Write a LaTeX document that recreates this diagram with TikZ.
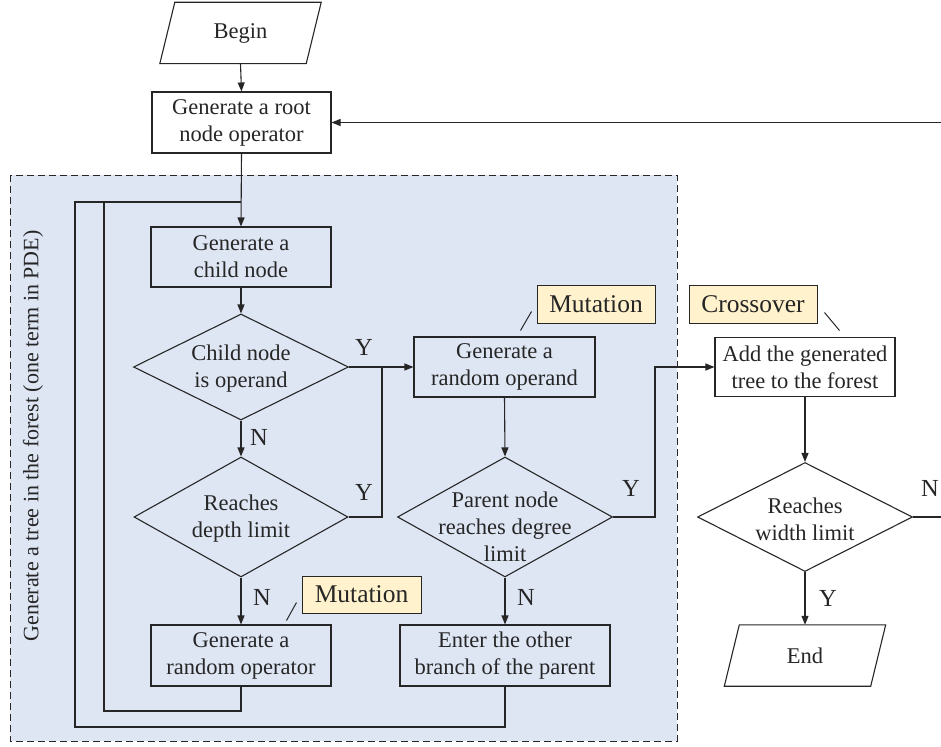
\documentclass[tikz,border=0pt]{standalone}
\usepackage{fontspec}
\setmainfont{Liberation Serif}
\usetikzlibrary{arrows.meta,shapes.geometric}

\definecolor{regionblue}{RGB}{222,230,244}
\definecolor{notefill}{RGB}{255,242,204}
\definecolor{ink}{RGB}{38,38,38}

\newcommand\boxfont{\fontsize{22.5}{27}\selectfont}
\newcommand\notefont{\fontsize{25.5}{30}\selectfont}
\newcommand\labelfont{\fontsize{24.5}{28}\selectfont}
\newcommand\regionfont{\fontsize{22}{26}\selectfont}

\tikzset{
  stepbox/.style={draw=ink, line width=1.1pt, rectangle, align=center,
    inner sep=2pt, font=\boxfont, text=ink},
  decision/.style={draw=ink, line width=1.1pt, diamond, inner sep=0pt},
  decisiontext/.style={align=center, inner sep=0pt, font=\boxfont, text=ink},
  ioframe/.style={rectangle, align=center, font=\boxfont, text=ink,
    minimum width=146pt, minimum height=61pt},
  iooutline/.style={draw=ink, line width=1.1pt, fill=white},
  note/.style={draw=ink, line width=1pt, fill=notefill, font=\notefont,
    text=ink, inner sep=0pt},
  tick/.style={draw=ink, line width=1pt},
  branch/.style={font=\labelfont, text=ink, inner sep=0pt},
  flow/.style={draw=ink, line width=1.1pt},
  arrow/.style={flow, -{Triangle[length=9pt,width=7pt]}},
}

\begin{document}
\begin{tikzpicture}[x=1pt, y=-1pt]
\useasboundingbox (0,0) rectangle (941,746);

% region that builds one tree
\fill[regionblue] (10,175) rectangle (677,741);
\draw[ink, line width=1pt, dash pattern=on 7pt off 4pt] (10,175) rectangle (677,741);
\node[rotate=90, font=\regionfont, text=ink] (region) at (33,436)
  {Generate a tree in the forest (one term in PDE)};

% start and end terminals
\node[ioframe] (begin) at (240.5,33) {};
\draw[iooutline] ([xshift=7.5pt]begin.north west) -- ([xshift=7.5pt]begin.north east)
  -- ([xshift=-7.5pt]begin.south east) -- ([xshift=-7.5pt]begin.south west) -- cycle;
\node[ioframe] at (begin) {Begin};

\node[ioframe] (end) at (805,655.5) {};
\draw[iooutline] ([xshift=7.5pt]end.north west) -- ([xshift=7.5pt]end.north east)
  -- ([xshift=-7.5pt]end.south east) -- ([xshift=-7.5pt]end.south west) -- cycle;
\node[ioframe] at (end) {End};

% process steps
\node[stepbox, fill=white, minimum width=179pt, minimum height=61pt] (root) at (241.5,122.5)
  {Generate a root\\node operator};
\node[stepbox, minimum width=180pt, minimum height=60pt] (child) at (241,257)
  {Generate a\\child node};
\node[stepbox, minimum width=181pt, minimum height=60pt] (operand) at (504.5,367)
  {Generate a\\random operand};
\node[stepbox, minimum width=180pt, minimum height=61pt] (operator) at (241,655.5)
  {Generate a\\random operator};
\node[stepbox, minimum width=210pt, minimum height=61pt] (enter) at (505,655.5)
  {Enter the other\\branch of the parent};
\node[stepbox, fill=white, minimum width=180pt, minimum height=59pt] (add) at (805,367)
  {Add the generated\\tree to the forest};

% decisions: outline and wording are separate nodes so the wording may
% run past the slanted edges
\node[decision, minimum width=215pt, minimum height=106pt] (isoperand) at (241,367) {};
\node[decisiontext] (isoperandtext) at (241,369) {Child node\\is operand};
\node[decision, minimum width=214pt, minimum height=120pt] (depth) at (241,517) {};
\node[decisiontext] (depthtext) at (241,519) {Reaches\\depth limit};
\node[decision, minimum width=215pt, minimum height=120pt] (degree) at (505,517) {};
\node[decisiontext] (degreetext) at (505,527) {Parent node\\reaches degree\\limit};
\node[decision, minimum width=215pt, minimum height=109pt] (width) at (805,517) {};
\node[decisiontext] (widthtext) at (805,519) {Reaches\\width limit};

% genetic operator notes
\node[note, minimum width=118pt, minimum height=38pt] (mut1) at (596,304) {Mutation};
\node[note, minimum width=119pt, minimum height=37pt] (mut2) at (361.5,594.5) {Mutation};
\node[note, minimum width=128pt, minimum height=38pt] (cross) at (753,304) {Crossover};
\draw[tick] ([shift={(-16,7)}]mut1.south west) -- ([shift={(-5,-12)}]mut1.south west);
\draw[tick] ([shift={(-15,7)}]mut2.south west) -- ([shift={(-5,-11)}]mut2.south west);
\draw[tick] ([shift={(7,-11)}]cross.south east) -- ([shift={(22,7)}]cross.south east);

% routing points
\coordinate (join) at (241,202);
\coordinate (loopin) at (104,711);
\coordinate (loopout) at (75,727);
\coordinate (merge) at (382,367);
\coordinate (bend) at (655,367);
\coordinate (backin) at (941,122.5);
\coordinate (backout) at (941,517);

% connectors
\draw[arrow] (begin.south) -- (root.north);
\draw[arrow] (backin) -- (root.east);
\draw[arrow] (root.south) -- (child.north);
\draw[arrow] (child.south) -- (isoperand.north);
\draw[arrow] (isoperand.south) -- (depth.north);
\draw[arrow] (isoperand.east) -- (operand.west);
\draw[flow] (depth.east) -| (merge);
\draw[arrow] (depth.south) -- (operator.north);
\draw[flow] (operator.south) |- (loopin) |- (join);
\draw[arrow] (operand.south) -- (degree.north);
\draw[arrow] (degree.south) -- (enter.north);
\draw[flow] (enter.south) |- (loopout) |- (join);
\draw[arrow] (degree.east) -| (bend) -- (add.west);
\draw[arrow] (add.south) -- (width.north);
\draw[arrow] (width.south) -- (end.north);
\draw[flow] (width.east) -- (backout);

% branch labels
\node[branch] (y1) at (364,347) {Y};
\node[branch] (n1) at (259,437) {N};
\node[branch] (y2) at (364,492) {Y};
\node[branch] (n2) at (262,597) {N};
\node[branch] (y3) at (631,488) {Y};
\node[branch] (n3) at (526,597) {N};
\node[branch] (n4) at (930,488) {N};
\node[branch] (y4) at (828,598) {Y};
\end{tikzpicture}
\end{document}
